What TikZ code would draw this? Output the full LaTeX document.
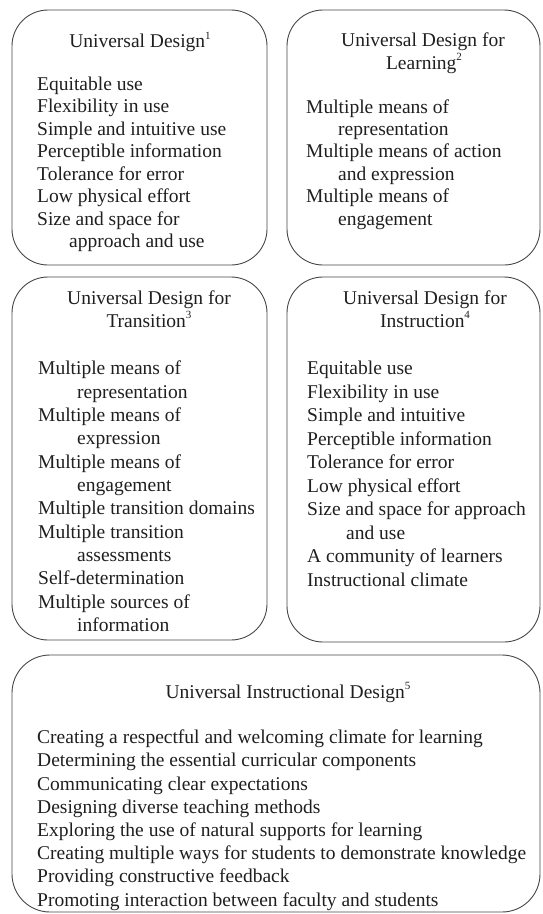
\documentclass[tikz,border=0pt]{standalone}
\usepackage{fontspec}
\setmainfont{Liberation Serif}
\newcommand{\udsup}[1]{\raisebox{0.42em}{\fontsize{11}{11}\selectfont #1}}
\begin{document}
\begin{tikzpicture}[x=1pt,y=-1pt,
  box/.style={draw=black!72, line width=0.9pt, rounded corners=36pt, inner sep=0pt, outer sep=0pt},
  txt/.style={font=\fontsize{19.5}{23}\selectfont, text=black!88, inner sep=0pt, anchor=base west},
  ttl/.style={font=\fontsize{19.5}{23}\selectfont, text=black!88, inner sep=0pt, anchor=base}]
\useasboundingbox (0,0) rectangle (542,914);
% boxes
\node[box, minimum width=255pt, minimum height=255pt] (b1) at (139.5,137.5) {};
\node[box, minimum width=253pt, minimum height=255pt] (b2) at (413.5,137.5) {};
\node[box, minimum width=255pt, minimum height=363pt] (b3) at (139.5,458.5) {};
\node[box, minimum width=253pt, minimum height=365pt] (b4) at (413.5,459.5) {};
\node[box, minimum width=528pt, minimum height=257pt, rounded corners=38pt] (b5) at (276,783.5) {};
% box 1
\node[ttl] (t1) at (140,47.3) {Universal Design\udsup{1}};
\foreach \t [count=\i from 0] in {Equitable use, Flexibility in use, Simple and intuitive use, Perceptible information, Tolerance for error, Low physical effort, Size and space for, \hspace*{32pt}approach and use}
  \node[txt] (b1l\i) at (37,90.3+\i*22.45) {\t};
% box 2
\node[ttl] (t2a) at (423,46.5) {Universal Design for};
\node[ttl] (t2b) at (424,69) {Learning\udsup{2}};
\foreach \t [count=\i from 0] in {Multiple means of, \hspace*{32pt}representation, Multiple means of action, \hspace*{32pt}and expression, Multiple means of, \hspace*{32pt}engagement}
  \node[txt] (b2l\i) at (306,113+\i*22.45) {\t};
% box 3
\node[ttl] (t3a) at (149,304) {Universal Design for};
\node[ttl] (t3b) at (149,327) {Transition\udsup{3}};
\foreach \t [count=\i from 0] in {Multiple means of, \hspace*{39pt}representation, Multiple means of, \hspace*{39pt}expression, Multiple means of, \hspace*{39pt}engagement, Multiple transition domains, Multiple transition, \hspace*{39pt}assessments, Self-determination, Multiple sources of, \hspace*{39pt}information}
  \node[txt] (b3l\i) at (38,374.7+\i*23.35) {\t};
% box 4
\node[ttl] (t4a) at (425,304) {Universal Design for};
\node[ttl] (t4b) at (425,327) {Instruction\udsup{4}};
\foreach \t [count=\i from 0] in {Equitable use, Flexibility in use, Simple and intuitive, Perceptible information, Tolerance for error, Low physical effort, Size and space for approach, \hspace*{39pt}and use, A community of learners, Instructional climate}
  \node[txt] (b4l\i) at (307,374.7+\i*23.5) {\t};
% box 5
\node[ttl] (t5) at (288,698) {Universal Instructional Design\udsup{5}};
\foreach \t [count=\i from 0] in {Creating a respectful and welcoming climate for learning, Determining the essential curricular components, Communicating clear expectations, Designing diverse teaching methods, Exploring the use of natural supports for learning, Creating multiple ways for students to demonstrate knowledge, Providing constructive feedback, Promoting interaction between faculty and students}
  \node[txt] (b5l\i) at (37,743.7+\i*23.2) {\t};
\end{tikzpicture}
\end{document}
